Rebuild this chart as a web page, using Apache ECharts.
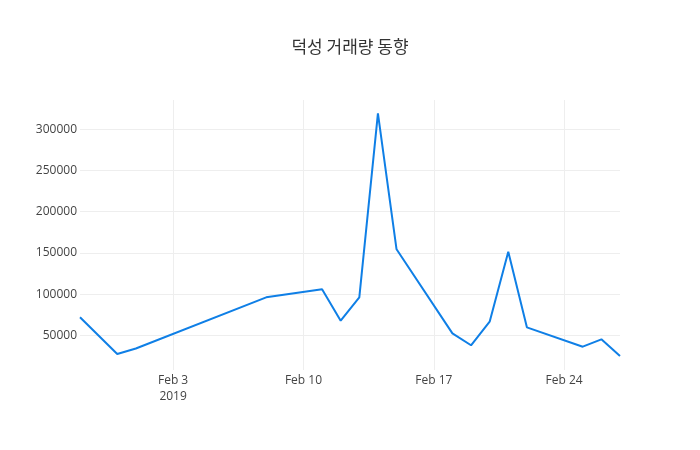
<!DOCTYPE html>
<html lang="ko">

<head>
    <meta charset="UTF-8">
    <title>덕성 거래량 동향</title>
    <style>
        body { margin: 0; background: #fff; }
    </style>
</head>

<body>
    <div id="main" style="width: 700px;height: 450px;"></div>
    <script src="https://cdn.jsdelivr.net/npm/echarts@6/dist/echarts.min.js"></script>
    <script>
        // 거래일, 거래량
        var dates = ['2019-01-29', '2019-01-31', '2019-02-01', '2019-02-08', '2019-02-11', '2019-02-12',
            '2019-02-13', '2019-02-14', '2019-02-15', '2019-02-18', '2019-02-19', '2019-02-20',
            '2019-02-21', '2019-02-22', '2019-02-25', '2019-02-26', '2019-02-27'];
        var volumes = [72000, 27300, 34000, 96100, 105800, 67700, 96100, 319400, 154400, 52400,
            37900, 66500, 151500, 59700, 36200, 45100, 24900];

        var xTicks = ['2019-02-03', '2019-02-10', '2019-02-17', '2019-02-24'];
        var xTickLabels = ['Feb 3\n2019', 'Feb 10', 'Feb 17', 'Feb 24'];
        var yTicks = [50000, 100000, 150000, 200000, 250000, 300000];

        function ts(d) { return new Date(d + 'T00:00:00Z').getTime(); }

        var xTickValues = xTicks.map(ts);

        var chart = echarts.init(document.getElementById('main'));
        chart.setOption({
            animation: false,
            textStyle: { fontFamily: 'Open Sans' },
            title: {
                text: '덕성 거래량 동향',
                left: 'center',
                top: 33,
                textStyle: {
                    fontFamily: 'Noto Sans CJK KR',
                    fontSize: 17,
                    fontWeight: 'normal',
                    color: '#333'
                }
            },
            grid: { left: 80, right: 80, top: 100, bottom: 80 },
            xAxis: {
                // 날짜를 타임스탬프 값으로 (눈금은 일요일 고정)
                type: 'value',
                min: ts('2019-01-29'),
                max: ts('2019-02-27'),
                axisLine: { show: false },
                axisTick: { show: false, customValues: xTickValues },
                axisLabel: {
                    customValues: xTickValues,
                    color: '#444',
                    fontSize: 12,
                    lineHeight: 16,
                    margin: 3,
                    formatter: function (v) {
                        var i = xTickValues.indexOf(v);
                        return i >= 0 ? xTickLabels[i] : '';
                    }
                },
                splitLine: { show: true, lineStyle: { color: '#eee', width: 1 } }
            },
            yAxis: {
                type: 'value',
                min: 7900,
                max: 335600,
                axisLine: { show: false },
                axisTick: { show: false, customValues: yTicks },
                axisLabel: {
                    customValues: yTicks,
                    color: '#444',
                    fontSize: 12,
                    margin: 3,
                    formatter: function (v) { return String(v); }
                },
                splitLine: { show: true, lineStyle: { color: '#eee', width: 1 } }
            },
            series: [{
                type: 'line',
                data: dates.map(function (d, i) { return [ts(d), volumes[i]]; }),
                showSymbol: false,
                lineStyle: { color: '#0f7fe6', width: 2 },
                itemStyle: { color: '#0f7fe6' }
            }]
        });
    </script>
</body>

</html>
